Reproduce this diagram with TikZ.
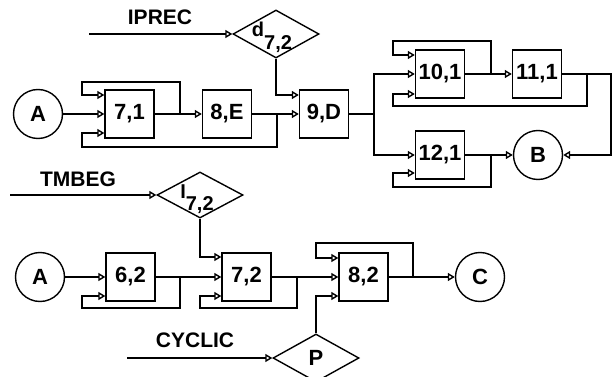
\documentclass[tikz,border=0pt]{standalone}
\usepackage{fontspec}
\setmainfont{Liberation Sans}
\usetikzlibrary{arrows.meta,shapes.geometric}
\begin{document}
\begin{tikzpicture}[x=1pt,y=-1pt,line width=1.4pt,
  arr/.style={-{Triangle[open,length=7pt,width=8pt]}},
  blk/.style={draw,minimum width=49pt,minimum height=48pt,inner sep=0pt,font=\bfseries\fontsize{22}{22}\selectfont},
  circ/.style={circle,draw,minimum size=49pt,inner sep=0pt,font=\bfseries\fontsize{22}{22}\selectfont},
  dia/.style={diamond,draw,minimum width=86pt,minimum height=48pt,inner sep=0pt,font=\bfseries\fontsize{22}{22}\selectfont},
  txt/.style={inner sep=0pt,font=\bfseries\fontsize{21}{21}\selectfont},
  sub/.style={inner sep=0pt,font=\bfseries\fontsize{20}{20}\selectfont}
]
\useasboundingbox (0,0) rectangle (613,377);
% ---- row 1 ----
\node[txt] (iprec) at (160,17) {IPREC};
\coordinate (ip0) at (89,34);
\node[dia] (d72) at (276,34) {};
\node[sub] (d72t) at (272,37) {d\raisebox{-13pt}{7,2}};
\node[circ] (A1) at (38,114) {A};
\node[blk] (b71) at (129.5,114) {7,1};
\node[blk] (b8E) at (227,114) {8,E};
\node[blk] (b9D) at (324,114) {9,D};
\node[blk] (b101) at (440,74) {10,1};
\node[blk] (b111) at (537,74) {11,1};
\node[blk] (b121) at (440,155) {12,1};
\node[circ] (B) at (538,155) {B};
\draw[arr] (ip0) -- (d72.west);
\draw[arr] (d72.south) |- (b9D.west |- 0,95);
\draw[arr] (A1) -- (b71);
\draw[arr] (b71) -- (b8E);
\coordinate (j1) at (180,114);
\draw[arr] (j1) |- (82,82) |- (b71.west |- 0,95);
\draw[arr] (b8E) -- (b9D);
\coordinate (j2) at (277,114);
\draw[arr] (j2) |- (82,147) |- (b71.west |- 0,133);
\coordinate (j3) at (374,114);
\draw (b9D) -- (j3);
\draw[arr] (j3) |- (b101.west);
\draw[arr] (j3) |- (b121.west);
\draw[arr] (b101) -- (b111);
\coordinate (j4) at (491,74);
\draw[arr] (j4) |- (393,41) |- (b101.west |- 0,55);
\draw[arr] (b111.east) -| (611,155) -- (B);
\coordinate (j6) at (587,74);
\draw[arr] (j6) |- (393,106) |- (b101.west |- 0,94);
\draw[arr] (b121) -- (B);
\coordinate (j7) at (491,155);
\draw[arr] (j7) |- (393,187) |- (b121.west |- 0,173);
% ---- row 2 ----
\node[txt] (tmbeg) at (78,179) {TMBEG};
\coordinate (tm0) at (10,195);
\node[dia,minimum height=46pt] (l72) at (200,195) {};
\node[sub] (l72t) at (197,199) {I\raisebox{-12pt}{7,2}};
\node[circ] (A2) at (40,277) {A};
\node[blk] (b62) at (130.5,277) {6,2};
\node[blk] (b72) at (246.5,277) {7,2};
\node[blk] (b82) at (363.5,277) {8,2};
\node[circ] (C) at (480,277) {C};
\node[dia] (P) at (316,358) {P};
\node[txt] (cyc) at (195,340) {CYCLIC};
\coordinate (cy0) at (127,358);
\draw[arr] (tm0) -- (l72.west);
\draw[arr] (l72.south) |- (b72.west |- 0,257);
\draw[arr] (A2) -- (b62);
\draw[arr] (b62) -- (b72);
\coordinate (k1) at (180,277);
\draw[arr] (k1) |- (82,308) |- (b62.west |- 0,296);
\draw[arr] (b72) -- (b82);
\coordinate (k2) at (297,277);
\draw[arr] (k2) |- (200,308) |- (b72.west |- 0,296);
\coordinate (k3) at (413,277);
\draw[arr] (k3) |- (316,243) |- (b82.west |- 0,258);
\draw[arr] (b82) -- (C);
\draw[arr] (P.north) |- (b82.west |- 0,296);
\draw[arr] (cy0) -- (P.west);
\end{tikzpicture}
\end{document}
